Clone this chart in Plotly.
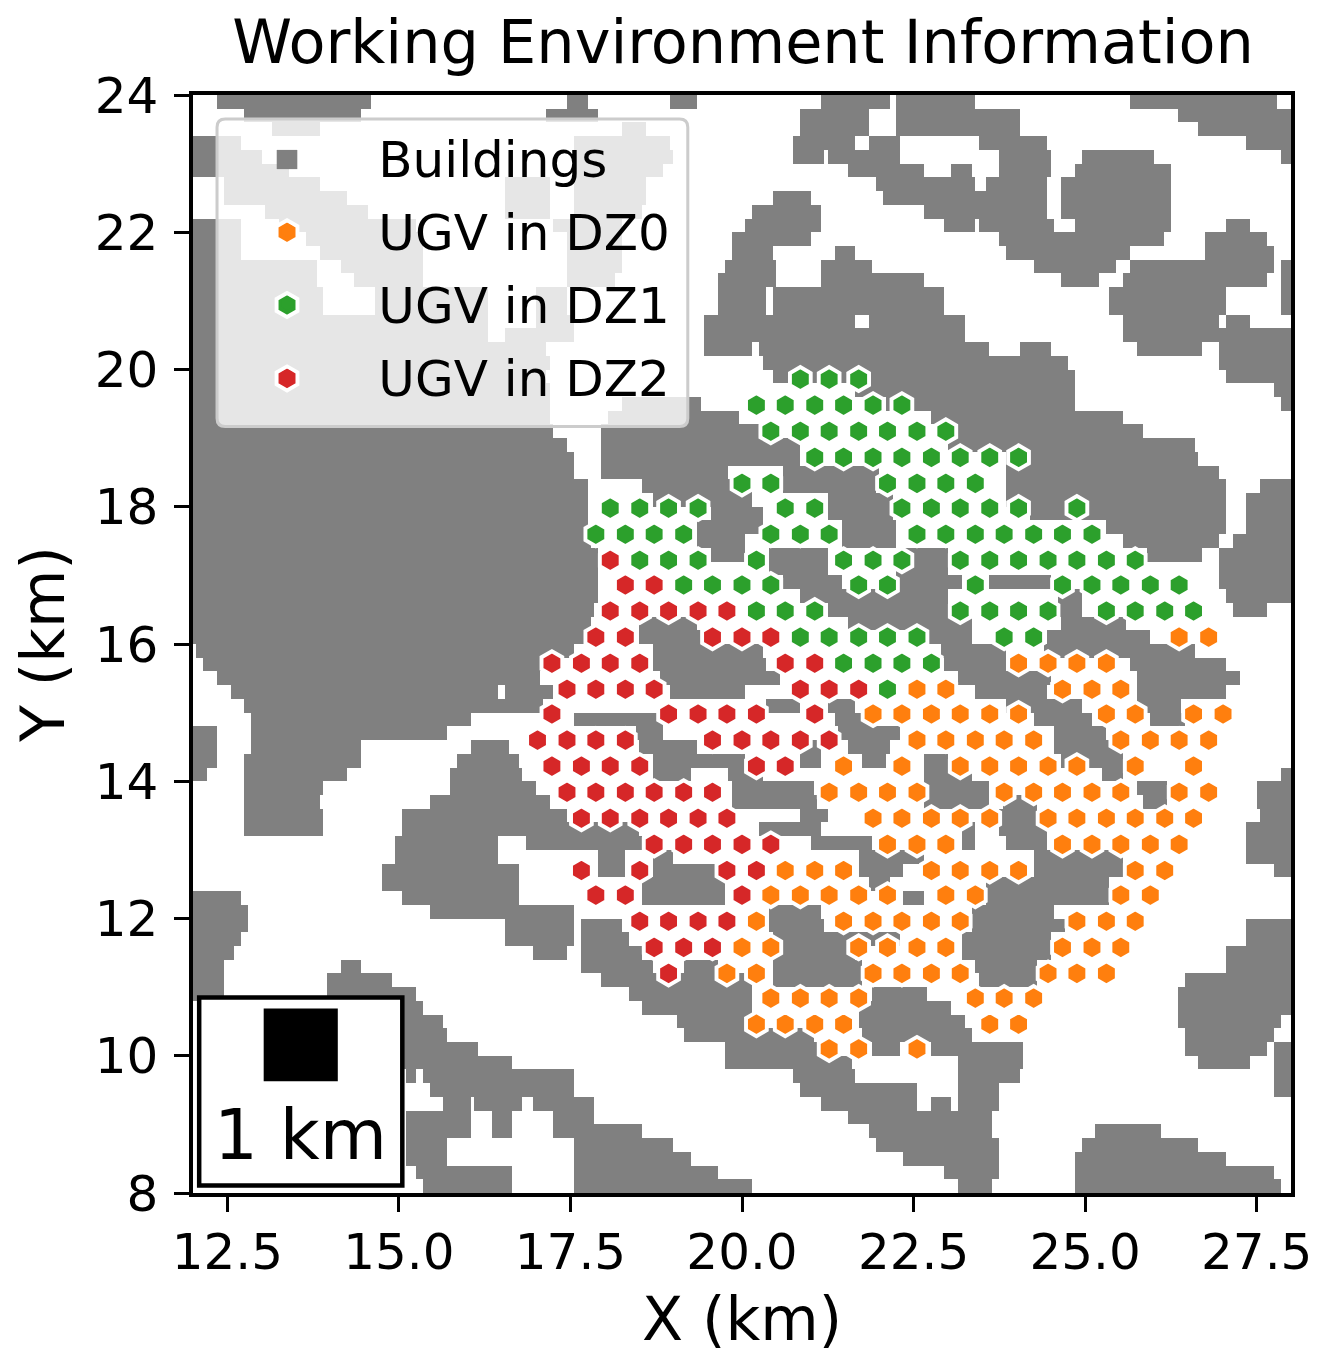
import numpy as np
import plotly.graph_objects as go

# Building footprint: flat [start, end, start, end, ...] spans in km for each 0.2 km row, top row first
building_rows = [
 [12.35,14.6,17.45,17.75,18.95,19.35,21.15,22.15,22.25,23.4,25.65,27.8],
 [12.75,14.45,17.15,17.9,20.85,21.85,22.25,24.05,26.35,28],
 [13.15,13.85,18.25,18.6,20.85,21.85,22.25,24.05,26.65,28],
 [12,12.7,17.55,18.95,20.75,21.65,21.85,22.3,23.45,24.45,27.35,28],
 [12,13,17.55,19,20.75,21.2,21.25,22.3,23.75,24.5,24.95,26,27.85,28],
 [12,13.4,17.55,18.85,21.55,22.65,23.05,23.35,23.75,24.5,24.85,26.25],
 [12.45,13.85,16.55,17.2,17.55,18.6,21.95,23.4,23.55,24.45,24.65,26.25],
 [12.45,14.25,16.55,17.2,17.55,18.6,20.45,21,22.05,24.45,24.65,26.25],
 [13.05,14.55,16.55,17.2,17.55,18.55,20.15,21.15,22.65,24.45,24.65,26.25],
 [12,12.7,13.25,15.25,17.25,18.25,20.05,21.15,22.95,23.4,23.45,24.55,24.85,26.25,27.05,27.4],
 [12,12.7,13.65,15.35,17.45,18.25,19.85,21,23.75,26.15,26.75,27.65],
 [12,12.7,13.85,15.35,17.45,18.25,19.85,20.45,21.35,21.65,23.85,25.65,26.75,27.75],
 [12,13.8,14.15,15.35,17.45,18.25,19.75,20.5,21.15,21.9,24.25,25.45,25.65,27.75,27.85,28],
 [12,13.8,14.35,15.35,17.45,18.15,19.65,20.5,21.15,22.65,24.65,25.2,25.55,27.65,27.85,28],
 [12,13.9,14.65,16.3,17,17.45,19.65,20.35,20.45,22.95,25.35,27.05,27.85,28],
 [12,13.9,14.65,16.3,17,17.45,19.65,20.35,20.45,22.95,25.35,27.05,27.85,28],
 [12,16.3,17,17.55,19.45,21.65,21.85,23.25,25.55,26.95,27.05,27.4],
 [12,16.3,16.55,17.55,19.45,23.25,25.55,28],
 [12,17.15,19.45,20.15,20.25,23.6,24.05,24.5,25.75,26.7,26.95,28],
 [12,17.2,20.3,24.75,26.95,28],
 [12,17.15,20.45,24.85,27.05,28],
 [12,17.2,21.65,24.85,27.75,28],
 [12,17.2,18.25,19.4,22.1,24.85,27.85,28],
 [12,17.2,18.05,19.95,22.75,25.55],
 [12,17.25,17.95,20.25,23.15,25.85],
 [12,17.45,17.95,20.85,23,26.6],
 [12,17.55,17.95,20.85,23.85,26.65],
 [12,17.55,17.95,19.8,20.6,22,23.85,26.95],
 [12,17.75,18.55,20.15,20.6,21.95,23.85,27.05,27.55,28],
 [12,17.75,18.7,20.15,21.25,22.2,23.85,27.05,27.35,28],
 [12,17.75,19.55,20.3,21.25,22.2,24.2,27.05,27.35,28],
 [12,17.75,19.35,20.3,21.45,22.25,25.3,27.05,27.35,28],
 [12,17.8,19.35,20.05,21.45,22.25,25.55,26.95,27.15,28],
 [12,17.9,19.55,20.05,20.4,21.25,22.35,23,25.9,26.7,26.95,28],
 [12,17.9,20.4,21.25,22.25,23,26.95,28],
 [12,17.9,20.6,21.45,22.25,23.2,23.6,24.5,26.95,28],
 [12,17.9,20.85,23,24.6,24.95,27.05,28],
 [12,17.85,21.25,23,24.6,24.95,27.15,27.65],
 [12,17.8,18.5,19.35,21.55,23.35,24.65,25.6],
 [12,17.7,18.5,19.4,22.65,23.35,24.45,25.95],
 [12.05,17.55,18.7,20.3,22.9,23.85,24.4,26.6],
 [12.15,17.25,18.7,20.35,22.95,23.85,25.65,27.05],
 [12.35,17.05,18.8,20.55,23.15,24.5,25.75,27.25],
 [12.55,16.45,16.55,17.25,18.95,20.05,23.4,24.45,25.75,27.05],
 [12.75,17.1,20.35,20.85,21.25,21.65,23.85,24.95,25.75,26.4],
 [12.85,16.05,17.55,18.85,21.35,21.85,24.25,25.1,25.95,26.45],
 [12,12.35,12.85,15.7,18.45,18.85,21.4,22.3,24.55,25.3],
 [12,12.35,12.85,14.45,16.05,16.6,18.5,19.35,20.85,21.15,21.55,22.15,24.55,25.55],
 [12,12.35,12.75,14.45,15.85,16.75,18.7,20.05,20.85,21.15,21.75,22.1,22.65,23,24.65,25.55],
 [12,12.2,12.75,14.25,15.75,16.8,18.7,19.25,19.8,20.3,22.65,23.35,25.25,25.55,27.85,28],
 [12.75,13.9,15.75,17,19.85,21.05,22.65,23.6,25.75,26.2,27.5,28],
 [12.75,13.85,15.45,17.2,19.85,21.1,22.65,23.6,23.8,24.3,25.85,26.2,27.5,28],
 [12.75,13.9,15.05,17.45,20.85,21.25,23.75,24.3,27.55,28],
 [12.75,13.9,15.05,18.5,20.25,21.15,23.2,23.4,23.75,24.45,27.35,28],
 [14.95,16.45,16.85,18.55,21,21.9,23.2,23.4,23.85,24.45,27.35,28],
 [14.95,16.45,17.9,18.3,18.7,19,21.7,22.65,24.25,25.55,27.35,28],
 [14.75,16.75,17.9,18.3,18.7,19.65,21.7,22.35,24.25,25.55,27.75,28],
 [14.75,16.75,18.55,19.75,21.85,22.15,23.55,25.35],
 [12,12.7,15.05,16.75,18.55,19.75,22.35,22.65,23.55,25.35],
 [12,12.8,15.45,17.55,20.4,21.15,23.35,24.55],
 [12,12.8,16.55,17.55,17.65,18.25,20.4,21.2,23.35,24.7,27.35,28],
 [12,12.7,16.55,17.55,17.65,18.35,20.45,22.3,23.2,24.5,27.35,28],
 [12,12.6,16.95,17.45,17.65,18.55,20.45,21.65,23.2,24.5,27.05,28],
 [12,12.45,14.15,14.45,17.65,18.7,19.15,19.65,20.45,21.75,23.4,24.3,27.05,28],
 [12,12.45,13.95,14.9,17.95,20.15,20.45,21.75,23.45,24.3,26.45,28],
 [12,12.45,13.95,15.25,18.35,20.15,21.9,22.7,26.35,28],
 [13.95,15.35,18.55,20.15,21.7,23.05,26.35,28],
 [15.05,15.65,19.05,20.15,21.7,23.25,26.35,27.85],
 [15.05,15.7,19.15,21.05,21.75,23.35,26.45,27.75],
 [15.05,16.15,19.75,21.1,21.9,22.3,22.75,24.1,26.45,27.65,27.75,28],
 [15.05,16.65,19.75,21.6,23.15,24.1,26.65,27.4,27.75,28],
 [15.1,15.25,15.35,17.55,20.75,21.65,23.15,24.05,27.75,28],
 [15.45,17.55,20.85,22.55,23.15,23.75,27.75,28],
 [15.65,16.05,16.1,16.8,16.95,17.85,21.15,22.55,22.75,23.05,23.15,23.75],
 [15.1,16.05,16.35,16.65,17.25,17.85,21.55,23.65],
 [15.1,16.05,16.35,16.65,17.25,18.55,21.85,23.65,25.15,26.1],
 [15.1,15.7,17.55,19,21.95,23.75,24.95,26.65],
 [15.1,15.7,17.55,19.25,22.35,23.75,24.85,27.05],
 [15.25,16.65,17.55,19.65,22.95,23.75,24.85,27.75],
 [15.35,16.65,17.55,20.15,23.15,23.65,24.85,27.85],
]

# UGV positions: (row Y in km, [X in km])
dz0_rows = [
 (16.10,[26.37,26.80]),
 (15.72,[24.03,24.46,24.88,25.31]),
 (15.34,[22.55,22.97,24.67,25.10,25.52]),
 (14.98,[21.91,22.33,22.76,23.18,23.61,24.03,25.31,25.73,26.58,27.01]),
 (14.60,[22.55,22.97,23.40,23.82,24.25,25.52,25.95,26.37,26.80]),
 (14.22,[21.48,22.33,23.18,23.61,24.03,24.46,24.88,25.73,26.58]),
 (13.84,[21.27,21.70,22.12,22.55,23.82,24.25,24.67,25.10,25.52,26.37,26.80]),
 (13.46,[21.91,22.33,22.76,23.18,23.61,24.46,24.88,25.31,25.73,26.16,26.58]),
 (13.08,[22.12,22.55,22.97,24.67,25.10,25.52,25.95,26.37]),
 (12.70,[20.63,21.06,21.48,22.76,23.18,23.61,24.03,25.73,26.16]),
 (12.34,[20.42,20.85,21.27,21.70,22.12,22.97,23.40,25.52,25.95]),
 (11.96,[20.21,21.48,21.91,22.33,22.76,23.18,24.88,25.31,25.73]),
 (11.58,[20.0,20.42,21.70,22.12,22.55,22.97,24.67,25.10,25.52]),
 (11.20,[19.78,20.21,21.91,22.33,22.76,23.18,24.46,24.88,25.31]),
 (10.84,[20.42,20.85,21.27,21.70,23.40,23.82,24.25]),
 (10.46,[20.21,20.63,21.06,21.48,23.61,24.03]),
 (10.10,[21.27,21.70,22.55]),
]
dz1_rows = [
 (19.86,[20.85,21.27,21.70]),
 (19.48,[20.21,20.63,21.06,21.48,21.91,22.33]),
 (19.10,[20.42,20.85,21.27,21.70,22.12,22.55,22.97]),
 (18.72,[21.06,21.48,21.91,22.33,22.76,23.18,23.61,24.03]),
 (18.34,[20.0,20.42,22.12,22.55,22.97,23.40]),
 (17.98,[18.08,18.51,18.93,19.36,20.63,21.06,22.33,22.76,23.18,23.61,24.03,24.88]),
 (17.60,[17.87,18.30,18.72,19.15,20.42,20.85,21.27,22.55,22.97,23.40,23.82,24.25,24.67,25.10]),
 (17.22,[18.51,18.93,19.36,20.21,21.48,21.91,22.33,23.18,23.61,24.03,24.46,24.88,25.31,25.73]),
 (16.86,[19.15,19.57,20.0,20.42,21.70,22.12,23.40,24.67,25.10,25.52,25.95,26.37]),
 (16.48,[20.21,20.63,21.06,23.18,23.61,24.03,24.46,25.31,25.73,26.16,26.58]),
 (16.10,[20.85,21.27,21.70,22.12,22.55,23.82,24.25]),
 (15.72,[21.48,21.91,22.33,22.76]),
 (15.34,[22.12]),
]
dz2_rows = [
 (17.22,[18.08]),
 (16.86,[18.30,18.72]),
 (16.48,[18.08,18.51,18.93,19.36,19.78]),
 (16.10,[17.87,18.30,19.57,20.0,20.42]),
 (15.72,[17.23,17.66,18.08,18.51,20.63,21.06]),
 (15.34,[17.45,17.87,18.30,18.72,20.85,21.27,21.70]),
 (14.98,[17.23,18.93,19.36,19.78,20.21,21.06]),
 (14.60,[17.02,17.45,17.87,18.30,19.57,20.0,20.42,20.85,21.27]),
 (14.22,[17.23,17.66,18.08,18.51,20.21,20.63]),
 (13.84,[17.45,17.87,18.30,18.72,19.15,19.57]),
 (13.46,[17.66,18.08,18.51,18.93,19.36,19.78]),
 (13.08,[18.72,19.15,19.57,20.0,20.42]),
 (12.70,[17.66,18.51,19.78,20.21]),
 (12.34,[17.87,18.30,20.0]),
 (11.96,[18.51,18.93,19.36,19.78]),
 (11.58,[18.72,19.15,19.57]),
 (11.20,[18.93]),
]
x_ticks = [12.5,15.0,17.5,20.0,22.5,25.0,27.5]
y_ticks = [8,10,12,14,16,18,20,22,24]

FONT = "DejaVu Sans"
GRAY = "#808080"
COLORS = {"UGV in DZ0": "#ff7f0e", "UGV in DZ1": "#2ca02c", "UGV in DZ2": "#d62728"}

# Rasterise spans into a heatmap grid
cell_x = np.arange(12.025, 28, 0.05)
cell_y = 23.9 - 0.2*np.arange(len(building_rows))
z = np.zeros((len(building_rows), len(cell_x)))
for i, spans in enumerate(building_rows):
    for a, b in zip(spans[0::2], spans[1::2]):
        z[i, (cell_x > a) & (cell_x < b)] = 1

fig = go.Figure()
fig.add_trace(go.Heatmap(x=cell_x, y=cell_y, z=z, zmin=0, zmax=1, showscale=False,
                         colorscale=[[0,"white"],[1,GRAY]], hoverinfo="skip"))

def flat(rows):
    xs, ys = [], []
    for y, row in rows:
        xs += row
        ys += [y]*len(row)
    return xs, ys

for name, rows in [("UGV in DZ0", dz0_rows), ("UGV in DZ1", dz1_rows), ("UGV in DZ2", dz2_rows)]:
    xs, ys = flat(rows)
    fig.add_trace(go.Scatter(x=xs, y=ys, mode="markers", name=name, showlegend=False,
                             marker=dict(symbol="hexagon", size=24, color=COLORS[name],
                                         line=dict(color="white", width=3.9))))

# Legend entries: plotly caps legend marker size, so the full-size key is drawn beneath them
fig.add_trace(go.Scatter(x=[None], y=[None], mode="markers", name="Buildings", legendgroup="b",
                         marker=dict(symbol="square", size=14, color=GRAY)))
for name in COLORS:
    fig.add_trace(go.Scatter(x=[None], y=[None], mode="markers", name=name, legendgroup=name,
                             marker=dict(symbol="hexagon", size=14, color=COLORS[name], line=dict(width=0))))

axis = dict(showgrid=False, zeroline=False, showline=True, mirror=True, linecolor="black", linewidth=3.5,
            ticks="outside", ticklen=15, tickwidth=3, tickcolor="black",
            tickfont=dict(family=FONT, size=50, color="black"))

r = 0.12
lx0, lx1, ly0, ly1 = 12.35, 19.21, 19.17, 23.65
legend_path = (f"M{lx0+r},{ly0} L{lx1-r},{ly0} Q{lx1},{ly0} {lx1},{ly0+r} L{lx1},{ly1-r} Q{lx1},{ly1} {lx1-r},{ly1} "
               f"L{lx0+r},{ly1} Q{lx0},{ly1} {lx0},{ly1-r} L{lx0},{ly0+r} Q{lx0},{ly0} {lx0+r},{ly0} Z")

key_x, key_y = 13.37, [22.0, 20.94, 19.87]
key_shapes = [dict(type="rect", x0=key_x-0.15, x1=key_x+0.15, y0=22.92, y1=23.2, xref="x", yref="y",
                   layer="above", fillcolor=GRAY, line=dict(width=0))]
for name, ky in zip(COLORS, key_y):
    hr, hw = 0.175, 0.152
    p = (f"M{key_x},{ky+hr} L{key_x+hw},{ky+hr/2} L{key_x+hw},{ky-hr/2} L{key_x},{ky-hr} "
         f"L{key_x-hw},{ky-hr/2} L{key_x-hw},{ky+hr/2} Z")
    key_shapes.append(dict(type="path", path=p, xref="x", yref="y", layer="above",
                           fillcolor=COLORS[name], line=dict(color="white", width=3.9)))

fig.update_layout(
    width=1316, height=1348, autosize=False,
    margin=dict(l=185, r=31, t=87, b=163, pad=0),
    paper_bgcolor="white", plot_bgcolor="white",
    title=dict(text="Working Environment Information", x=(743-8)/1316, xanchor="center",
               y=1-(42-8)/1348, yanchor="middle", font=dict(family=FONT, size=60.5, color="black")),
    xaxis=dict(range=[12,28], tickmode="array", tickvals=x_ticks, ticktext=[f"{v:.1f}" for v in x_ticks],
               ticklabelstandoff=-3,
               title=dict(text="X (km)", font=dict(family=FONT, size=60, color="black"), standoff=19), **axis),
    yaxis=dict(range=[8,24], tickmode="array", tickvals=y_ticks, ticktext=[str(v) for v in y_ticks],
               ticklabelstandoff=6,
               title=dict(text="Y (km)", font=dict(family=FONT, size=60, color="black"), standoff=18), **axis),
    legend=dict(x=0.003, y=0.979, xanchor="left", yanchor="top", bgcolor="rgba(0,0,0,0)", borderwidth=0,
                itemwidth=172, itemsizing="trace", tracegroupgap=5,
                font=dict(family=FONT, size=50, color="black")),
    shapes=[
        dict(type="path", path=legend_path, xref="x", yref="y", layer="above",
             fillcolor="rgba(255,255,255,0.8)", line=dict(color="#cccccc", width=3)),
        *key_shapes,
        dict(type="rect", x0=12.09, x1=15.05, y0=8.11, y1=10.85, xref="x", yref="y", layer="above",
             fillcolor="white", line=dict(color="black", width=4.5)),
        dict(type="rect", x0=13.03, x1=14.11, y0=9.63, y1=10.69, xref="x", yref="y", layer="above",
             fillcolor="black", line=dict(width=0)),
    ],
    annotations=[dict(text="1 km", x=13.57, y=8.85, xref="x", yref="y", showarrow=False,
                      font=dict(family=FONT, size=69, color="black"))],
)
fig.write_html("out.html")
